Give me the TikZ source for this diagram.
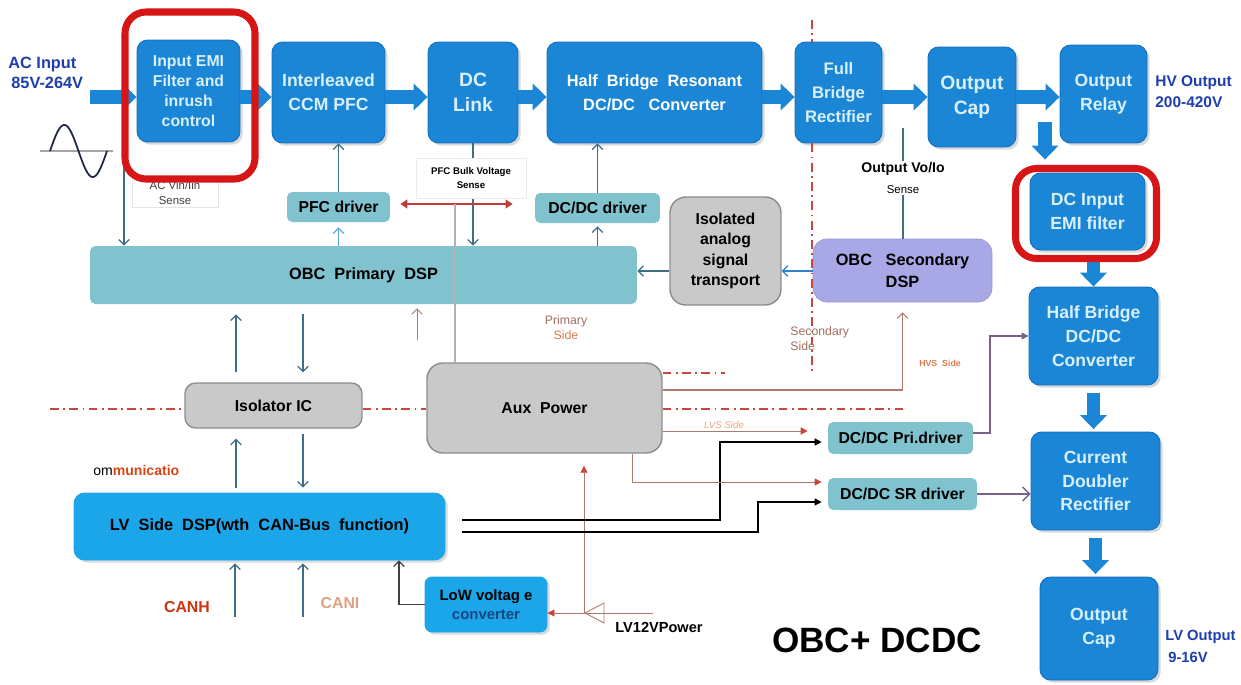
\documentclass[tikz,border=0pt]{standalone}
\usepackage{fontspec}
\setmainfont{Liberation Sans}
\usetikzlibrary{arrows.meta,shadows}

\definecolor{obcblue}{RGB}{28,134,214}
\definecolor{obcedge}{RGB}{20,110,190}
\definecolor{obctext}{RGB}{215,240,250}
\definecolor{lvblue}{RGB}{27,166,234}
\definecolor{tealfill}{RGB}{128,195,207}
\definecolor{greyfill}{RGB}{201,201,201}
\definecolor{greyedge}{RGB}{140,140,140}
\definecolor{purplefill}{RGB}{168,168,230}
\definecolor{purpleedge}{RGB}{150,150,210}
\definecolor{hired}{RGB}{214,22,22}
\definecolor{lblblue}{RGB}{30,62,172}
\definecolor{connteal}{RGB}{62,110,135}
\definecolor{arrblue}{RGB}{50,130,200}
\definecolor{lightarr}{RGB}{90,170,225}
\definecolor{brownln}{RGB}{175,120,110}
\definecolor{redarrow}{RGB}{190,60,60}
\definecolor{dashred}{RGB}{200,70,60}
\definecolor{purpleln}{RGB}{120,95,140}
\definecolor{sidecol}{RGB}{225,120,80}
\definecolor{primcol}{RGB}{160,110,95}
\definecolor{canhred}{RGB}{205,50,15}
\definecolor{canipink}{RGB}{220,160,130}
\definecolor{commred}{RGB}{215,70,20}
\definecolor{convtext}{RGB}{25,70,130}
\definecolor{sinecol}{RGB}{30,40,70}

\begin{document}
\begin{tikzpicture}[x=0.02cm, y=-0.02cm,
    bluebox/.style={fill=obcblue, draw=obcedge, line width=0.5pt, rounded corners=6pt,
        text=obctext, align=center, inner sep=1pt,
        font=\bfseries\fontsize{10}{13.5}\selectfont,
        drop shadow={shadow xshift=1.5pt, shadow yshift=-1.5pt, opacity=0.3, fill=gray}},
    lvbox/.style={bluebox, fill=lvblue, draw=lvblue},
    tealbox/.style={fill=tealfill, rounded corners=3pt, inner sep=1pt,
        font=\bfseries\fontsize{9}{11}\selectfont},
    greybox/.style={fill=greyfill, draw=greyedge, line width=0.8pt, rounded corners=9pt,
        align=center, inner sep=1pt, font=\bfseries\fontsize{9}{11.5}\selectfont},
    redframe/.style={draw=hired, line width=4pt, rounded corners=12pt},
    flow/.style={draw=obcblue, line width=7.5pt, -{Triangle[width=15pt,length=8pt]}},
    conn/.style={draw=connteal, line width=0.7pt, -{Straight Barb[length=3pt,width=6pt]}},
    feed/.style={draw=brownln, line width=0.5pt, -{Triangle[length=4pt,width=4pt,color=dashred]}},
    sigblk/.style={draw=black, line width=0.8pt, -{Triangle[length=4pt,width=4pt]}},
    redarr/.style={draw=redarrow, line width=1.2pt,
        {Triangle[length=4pt,width=5pt]}-{Triangle[length=4pt,width=5pt]}},
    sepline/.style={draw=dashred, line width=1.2pt,
        dash pattern=on 5pt off 2.5pt on 1pt off 2.5pt},
    lbl/.style={inner sep=0pt, font=\bfseries\fontsize{9.3}{11}\selectfont},
    sidelbl/.style={inner sep=0pt, text=sidecol, font=\fontsize{5}{6}\selectfont}
]

    \useasboundingbox (0,0) rectangle (1241,684);

    % --- HV power chain ---
    \node[bluebox, minimum width=2.06cm, minimum height=2.04cm,
        font=\bfseries\fontsize{9}{11.5}\selectfont] (emi) at (188.5,91) {Input EMI\\Filter and\\inrush\\control};
    \node[bluebox, minimum width=2.26cm, minimum height=2.02cm] (ccm) at (328.5,92.5) {Interleaved\\CCM PFC};
    \node[bluebox, minimum width=1.8cm, minimum height=2.02cm,
        font=\bfseries\fontsize{11}{14}\selectfont] (link) at (473,92.5) {DC\\Link};
    \node[bluebox, minimum width=4.3cm, minimum height=2.02cm, text=white,
        font=\bfseries\fontsize{9.3}{13.5}\selectfont] (hbr) at (654.5,92.5) {Half\ \ Bridge\ \ Resonant\\DC/DC\ \ \ Converter};
    \node[bluebox, minimum width=1.74cm, minimum height=2.02cm,
        font=\bfseries\fontsize{9.5}{13.5}\selectfont] (fbr) at (838.5,92.5) {Full\\Bridge\\Rectifier};
    \node[bluebox, minimum width=1.76cm, minimum height=2cm,
        font=\bfseries\fontsize{11}{14}\selectfont] (ocap) at (972,97) {Output\\Cap};
    \node[bluebox, minimum width=1.74cm, minimum height=1.96cm] (relay) at (1103.5,94) {Output\\Relay};

    % --- DC/DC (LV) chain ---
    \node[bluebox, minimum width=2.3cm, minimum height=1.54cm] (dcin) at (1087.5,211.5) {DC Input\\EMI filter};
    \node[bluebox, minimum width=2.58cm, minimum height=1.96cm] (hbc) at (1093.5,336) {Half Bridge\\DC/DC\\Converter};
    \node[bluebox, minimum width=2.58cm, minimum height=1.96cm] (cdr) at (1095.5,481) {Current\\Doubler\\Rectifier};
    \node[bluebox, minimum width=2.36cm, minimum height=2.06cm] (lvcap) at (1099,628.5) {Output\\Cap};

    % --- Control blocks ---
    \node[tealbox, minimum width=2.06cm, minimum height=0.6cm] (pfcdrv) at (338.5,207) {PFC driver};
    \node[tealbox, minimum width=2.5cm, minimum height=0.6cm] (dcdrv) at (597.5,208) {DC/DC driver};
    \node[greybox, minimum width=2.22cm, minimum height=2.16cm] (iso) at (725.5,251) {Isolated\\analog\\signal\\transport};
    \node[fill=purplefill, draw=purpleedge, rounded corners=8pt, minimum width=3.58cm, minimum height=1.26cm,
        align=center, inner sep=1pt, font=\bfseries\fontsize{9.3}{12.5}\selectfont] (sdsp) at (902.5,270.5) {OBC\ \ \ Secondary\\DSP};
    \node[tealbox, minimum width=10.94cm, minimum height=1.16cm,
        font=\bfseries\fontsize{9.3}{11}\selectfont] (pdsp) at (363.5,275) {OBC\ \ Primary\ \ DSP};
    \node[greybox, minimum width=3.54cm, minimum height=0.9cm, rounded corners=6pt] (isoic) at (273.5,405.5) {Isolator IC};
    \node[greybox, minimum width=4.7cm, minimum height=1.8cm] (aux) at (544.5,408) {Aux\ \ Power};
    \node[tealbox, minimum width=2.9cm, minimum height=0.64cm] (pridrv) at (900.5,438) {DC/DC Pri.driver};
    \node[tealbox, minimum width=2.98cm, minimum height=0.64cm] (srdrv) at (902.5,494) {DC/DC SR driver};
    \node[lvbox, minimum width=7.42cm, minimum height=1.34cm, text=black,
        font=\bfseries\fontsize{9.3}{11}\selectfont] (lvdsp) at (259.5,526.5) {LV\ \ Side\ \ DSP(wth\ \ CAN-Bus\ \ function)};
    \node[lvbox, minimum width=2.44cm, minimum height=1.1cm, rounded corners=4pt,
        font=\bfseries\fontsize{8.5}{11}\selectfont] (lvconv) at (486,604.5) {\textcolor{black}{LoW voltag e}\\\textcolor{convtext}{converter}};

    % --- Power flow arrows ---
    \coordinate (acin) at (90,97);
    \coordinate (hvtap) at (1045,122);
    \draw[flow] (acin) -- (emi.west |- acin);
    \draw[flow] (emi.east |- acin) -- (ccm.west |- acin);
    \draw[flow] (ccm.east |- acin) -- (link.west |- acin);
    \draw[flow] (link.east |- acin) -- (hbr.west |- acin);
    \draw[flow] (hbr.east |- acin) -- (fbr.west |- acin);
    \draw[flow] (fbr.east |- acin) -- (ocap.west |- acin);
    \draw[flow] (ocap.east |- acin) -- (relay.west |- acin);
    \draw[flow, shorten >=0.26cm] (hvtap) -- (hvtap |- dcin.north);
    \draw[flow, shorten <=0.1cm] (hbc.north |- dcin.south) -- (hbc.north);
    \draw[flow, shorten <=0.15cm, shorten >=0.05cm] (hbc.south) -- (hbc.south |- cdr.north);
    \draw[flow, shorten <=0.15cm, shorten >=0.05cm] (cdr.south) -- (cdr.south |- lvcap.north);

    % --- Sense and drive signals ---
    \coordinate (acs) at (124,150);
    \coordinate (bulkx) at (455,204);
    \coordinate (votap) at (903,128);
    \draw[conn] (acs) -- (acs |- pdsp.north);
    \draw[conn] (pfcdrv.north) -- (pfcdrv.north |- ccm.south);
    \draw[conn, draw=lightarr, shorten >=0.1cm] (pfcdrv.south |- pdsp.north) -- (pfcdrv.south);
    \draw[conn] (link.south) -- (link.south |- pdsp.north);
    \draw[redarr] ([xshift=0.2cm, yshift=0.06cm]pfcdrv.east) -- ([xshift=-0.44cm, yshift=0.08cm]dcdrv.west);
    \draw[draw=gray!60, line width=0.6pt] (bulkx) -- (bulkx |- aux.north);
    \draw[conn] (dcdrv.north) -- (dcdrv.north |- hbr.south);
    \draw[conn, shorten >=0.06cm] (dcdrv.south |- pdsp.north) -- (dcdrv.south);
    \draw[conn] (iso.west |- 0,271) -- (pdsp.east |- 0,271);
    \draw[conn, draw=arrblue] (sdsp.west |- 0,271) -- (iso.east |- 0,271);
    \draw[draw=connteal, line width=0.7pt] (votap) -- (votap |- sdsp.north);

    % --- DSP <-> Isolator IC <-> LV DSP ---
    \draw[conn, shorten <=0.2cm, shorten >=0.2cm] (isoic.north -| 236,0) -- (pdsp.south -| 236,0);
    \draw[conn, shorten <=0.2cm, shorten >=0.2cm] (pdsp.south -| 303,0) -- (isoic.north -| 303,0);
    \draw[conn, shorten <=0.1cm, shorten >=0.2cm] (lvdsp.north -| 236,0) -- (isoic.south -| 236,0);
    \draw[conn, shorten <=0.1cm, shorten >=0.1cm] (isoic.south -| 303,0) -- (lvdsp.north -| 303,0);
    \coordinate (pbtap) at (417,340);
    \draw[conn, draw=brownln, line width=0.5pt, shorten >=0.08cm] (pbtap) -- (pbtap |- pdsp.south);

    % --- CAN bus and 12V input ---
    \coordinate (canhin) at (235,617);
    \coordinate (caniin) at (303,617);
    \coordinate (lv12) at (653,613);
    \coordinate (lvtap) at (584,613);
    \draw[conn, shorten >=0.06cm] (canhin) -- (canhin |- lvdsp.south);
    \draw[conn, shorten >=0.06cm] (caniin) -- (caniin |- lvdsp.south);
    \draw[conn, draw=darkgray] (lvconv.west) -| (lvdsp.south -| 399,0);
    \draw[feed] (lv12) -- (lvconv.east |- lv12);
    \draw[brownln, line width=0.5pt] (585,613) -- (604,603) -- (604,623) -- cycle;
    \draw[feed, shorten >=0.24cm] (lvtap) -- (aux.south -| lvtap);

    % --- Gate drive paths ---
    \coordinate (lvo1) at (462,520);
    \coordinate (lvo2) at (462,532);
    \draw[sigblk, shorten >=0.12cm] (lvo1) -- (720,520) |- (pridrv.west |- 0,442);
    \draw[sigblk, line width=0.6pt, shorten >=0.12cm] (lvo2) -- (758,532) |- (srdrv.west |- 0,502);
    \draw[feed, shorten >=0.4cm] (aux.east |- 0,431) -- (pridrv.west |- 0,431);
    \draw[feed, shorten >=0.12cm] (aux.south -| 632,0) |- (srdrv.west |- 0,482);
    \draw[draw=brownln, line width=0.6pt, -{Straight Barb[length=3pt,width=6pt]}, shorten >=0.2cm]
        (aux.east |- 0,390) -| (sdsp.south);
    \draw[draw=purpleln, line width=0.6pt, -{Triangle[length=4pt,width=4pt]}]
        (pridrv.east |- 0,433) -- (990,433) |- (hbc.west);
    \draw[draw=purpleln, line width=0.8pt, -{Straight Barb[length=4pt,width=8pt]}]
        (srdrv.east) -- (cdr.west |- srdrv.east);

    % --- Isolation boundaries ---
    \draw[sepline] (812,20) -- (fbr.north -| 812,0);
    \draw[sepline] (fbr.south -| 812,0) -- (812,373);
    \draw[sepline] (50,409) -- (isoic.west |- 0,409);
    \draw[sepline] (isoic.east |- 0,409) -- (aux.west |- 0,409);
    \draw[sepline] (aux.east |- 0,409) -- (907,409);
    \draw[sepline] (aux.east |- 0,373) -- (725,373);

    % --- AC input waveform ---
    \draw[gray!70, line width=0.8pt] (40,151) -- (113,151);
    \draw[sinecol, line width=1pt] plot[domain=0:360, samples=73, smooth] ({50+\x/360*57}, {151-26*sin(\x)});

    % --- Labels ---
    \node[lbl, anchor=west, text=lblblue] (acinlbl) at (8,64) {AC Input};
    \node[lbl, anchor=west, text=lblblue] (acvlbl) at (11,83) {85V-264V};
    \node[lbl, anchor=west, text=lblblue, font=\bfseries\fontsize{8.8}{11}\selectfont] (hvlbl) at (1155,83) {HV Output};
    \node[lbl, anchor=west, text=lblblue, font=\bfseries\fontsize{8.8}{11}\selectfont] (hvvlbl) at (1155,102) {200-420V};
    \node[lbl, anchor=west, text=lblblue, font=\bfseries\fontsize{8.4}{11}\selectfont] (lvlbl) at (1165,637) {LV Output};
    \node[lbl, anchor=west, text=lblblue, font=\bfseries\fontsize{8.4}{11}\selectfont] (lvvlbl) at (1168,657) {9-16V};
    \node[inner sep=0pt, font=\bfseries\fontsize{20}{24}\selectfont] (title) at (877,640) {OBC+ DCDC};

    \node[fill=white, draw=gray!20, align=center, inner sep=1.5pt, minimum width=1.72cm,
        text=darkgray, font=\fontsize{6.5}{8.5}\selectfont] (acsense) at (175,193) {AC Vin/Iin\\Sense};
    \node[fill=white, draw=gray!15, align=center, minimum width=2.2cm, minimum height=0.8cm,
        inner sep=1pt, font=\bfseries\fontsize{5.5}{7.5}\selectfont] (bulk) at (471,178) {PFC Bulk Voltage\\Sense};
    \node[fill=white, align=center, inner sep=1pt] (vosense) at (903,178)
        {{\bfseries\fontsize{8}{9}\selectfont Output Vo/Io}\\{\fontsize{6.5}{8}\selectfont Sense}};
    \node[align=center, inner sep=0pt, text=primcol, font=\fontsize{7}{8.5}\selectfont] (prim) at (566,328) {Primary\\\textcolor{sidecol}{Side}};
    \node[align=left, anchor=west, inner sep=0pt, text=primcol, font=\fontsize{7}{8.5}\selectfont] (sec) at (790,339) {Secondary\\Side};
    \node[sidelbl, font=\bfseries\fontsize{5}{6}\selectfont] (hvs) at (940,363) {HVS\ \ Side};
    \node[sidelbl, text=sidecol!70, font=\itshape\fontsize{5.5}{6}\selectfont] (lvs) at (724,425) {LVS Side};
    \node[anchor=west, inner sep=0pt, font=\fontsize{8}{10}\selectfont] (comm) at (93,470) {om\textcolor{commred}{\bfseries municatio}};
    \node[lbl, text=canhred, font=\bfseries\fontsize{9}{11}\selectfont] (canh) at (187,607) {CANH};
    \node[lbl, text=canipink, font=\bfseries\fontsize{9}{11}\selectfont] (cani) at (340,603) {CANI};
    \node[anchor=west, inner sep=0pt, font=\bfseries\fontsize{8.3}{10}\selectfont] (lv12lbl) at (615,627) {LV12VPower};

    % --- Highlight frames ---
    \draw[redframe] (125,12) rectangle (255,179);
    \draw[redframe] (1015.5,168.5) rectangle (1156.5,258.5);

\end{tikzpicture}
\end{document}
